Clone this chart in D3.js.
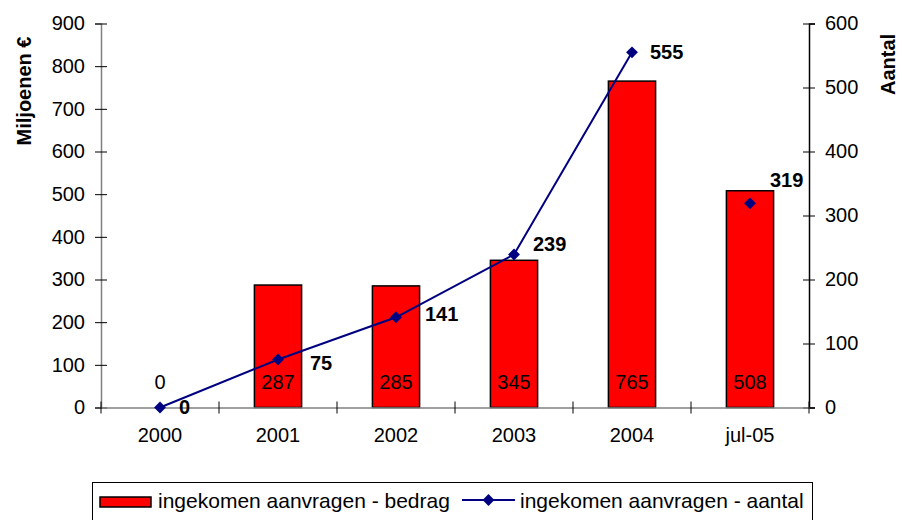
<!DOCTYPE html>
<html>
<head>
<meta charset="utf-8">
<script src="https://cdn.jsdelivr.net/npm/d3@7"></script>
<style>
  html, body { margin: 0; padding: 0; background: #fff; }
  svg { display: block; font-family: "Liberation Sans", Arial, sans-serif; }
</style>
</head>
<body>
<svg id="chart" width="902" height="520"></svg>
<script>
const categories = ["2000", "2001", "2002", "2003", "2004", "jul-05"];
const bedrag = [0, 287, 285, 345, 765, 508];
const aantal = [0, 75, 141, 239, 555, 319];
const leftTicks = [0, 100, 200, 300, 400, 500, 600, 700, 800, 900];
const rightTicks = [0, 100, 200, 300, 400, 500, 600];
const seriesNames = ["ingekomen aanvragen - bedrag", "ingekomen aanvragen - aantal"];
const yTitleLeft = "Miljoenen €";
const yTitleRight = "Aantal";

function draw() {
  const svg = d3.select("#chart");
  const plot = { left: 101, right: 809, top: 23.5, bottom: 407.5 };

  const x = d3.scaleBand().domain(categories).range([plot.left, plot.right]).padding(0);
  const yL = d3.scaleLinear().domain([0, 900]).range([plot.bottom, plot.top]);
  const yR = d3.scaleLinear().domain([0, 600]).range([plot.bottom, plot.top]);

  const fs = 20;

  // Bars
  const barW = x.bandwidth() * 0.4;
  svg.append("g").selectAll("rect").data(categories).join("rect")
    .attr("x", d => x(d) + x.bandwidth() / 2 - barW / 2)
    .attr("y", (d, i) => yL(bedrag[i]))
    .attr("width", barW)
    .attr("height", (d, i) => yL(0) - yL(bedrag[i]))
    .attr("fill", (d, i) => bedrag[i] > 0 ? "#ff0000" : "none")
    .attr("stroke", (d, i) => bedrag[i] > 0 ? "#000" : "none")
    .attr("stroke-width", 1.5);

  // Left axis
  const gL = svg.append("g").attr("transform", `translate(${plot.left},0)`)
    .call(d3.axisLeft(yL).tickValues(leftTicks).tickSize(6).tickPadding(10).tickFormat(d3.format("d")));
  gL.select(".domain").attr("stroke", "#808080").attr("stroke-width", 1.5);
  gL.selectAll(".tick line").attr("x1", 6).attr("x2", -6).attr("stroke", "#000");
  gL.selectAll(".tick text").attr("font-size", fs).attr("fill", "#000")
    .attr("font-family", "Liberation Sans, Arial, sans-serif");

  // Right axis
  const gR = svg.append("g").attr("transform", `translate(${plot.right},0)`)
    .call(d3.axisRight(yR).tickValues(rightTicks).tickSize(6).tickPadding(10).tickFormat(d3.format("d")));
  gR.select(".domain").attr("stroke", "#000").attr("stroke-width", 1.5);
  gR.selectAll(".tick line").attr("x1", -6).attr("x2", 6).attr("stroke", "#000");
  gR.selectAll(".tick text").attr("font-size", fs).attr("fill", "#000")
    .attr("font-family", "Liberation Sans, Arial, sans-serif");

  // Bottom axis
  const gB = svg.append("g").attr("transform", `translate(0,${plot.bottom})`)
    .call(d3.axisBottom(x).tickSize(0).tickPadding(20));
  gB.select(".domain").attr("stroke", "#808080").attr("stroke-width", 1.5);
  gB.selectAll(".tick text").attr("font-size", fs).attr("fill", "#000")
    .attr("font-family", "Liberation Sans, Arial, sans-serif");
  const bounds = categories.map(d => x(d)).concat([plot.right]);
  gB.append("g").selectAll("line").data(bounds).join("line")
    .attr("x1", d => d).attr("x2", d => d)
    .attr("y1", -6).attr("y2", 6)
    .attr("stroke", "#000").attr("stroke-width", 1);

  // Bar value labels
  svg.append("g").selectAll("text").data(categories).join("text")
    .attr("x", d => x(d) + x.bandwidth() / 2)
    .attr("y", plot.bottom - 19)
    .attr("text-anchor", "middle")
    .attr("font-size", fs)
    .attr("fill", "#000")
    .text((d, i) => bedrag[i]);

  // Line (2000 to 2004 connected, jul-05 standalone)
  const cx = d => x(d) + x.bandwidth() / 2;
  const line = d3.line()
    .defined((d, i) => i < categories.length - 1)
    .x((d, i) => cx(categories[i]))
    .y(d => yR(d));
  svg.append("path").datum(aantal)
    .attr("d", line)
    .attr("fill", "none").attr("stroke", "#000080").attr("stroke-width", 2);

  svg.append("g").selectAll("path").data(aantal).join("path")
    .attr("d", d3.symbol().type(d3.symbolSquare).size(70))
    .attr("transform", (d, i) => `translate(${cx(categories[i])},${yR(d)}) rotate(45)`)
    .attr("fill", "#000080");

  // Line value labels (manual nudges as in the original chart)
  const nudge = [[19, -1], [32, 3], [29, -3.5], [19, -10.5], [18, 0], [20, -23]];
  svg.append("g").selectAll("text").data(aantal).join("text")
    .attr("x", (d, i) => cx(categories[i]) + nudge[i][0])
    .attr("y", (d, i) => yR(d) + nudge[i][1])
    .attr("dy", "0.35em")
    .attr("font-size", fs)
    .attr("font-weight", "bold")
    .attr("fill", "#000")
    .text(d => d);

  // Axis titles
  svg.append("text")
    .attr("transform", `translate(31,91) rotate(-90)`)
    .attr("text-anchor", "middle")
    .attr("font-size", fs)
    .attr("font-weight", "bold")
    .text(yTitleLeft);
  svg.append("text")
    .attr("transform", `translate(895,64.5) rotate(-90)`)
    .attr("text-anchor", "middle")
    .attr("font-size", fs)
    .attr("font-weight", "bold")
    .text(yTitleRight);

  // Legend
  const lg = svg.append("g");
  lg.append("rect").attr("x", 92.5).attr("y", 482.5).attr("width", 720).attr("height", 50)
    .attr("fill", "#fff").attr("stroke", "#000").attr("stroke-width", 1);
  lg.append("rect").attr("x", 100).attr("y", 497).attr("width", 51).attr("height", 10)
    .attr("fill", "#ff0000").attr("stroke", "#000").attr("stroke-width", 1.5);
  lg.append("text").attr("x", 158).attr("y", 507.5).attr("font-size", 21).text(seriesNames[0]);
  lg.append("line").attr("x1", 462).attr("x2", 515).attr("y1", 500).attr("y2", 500)
    .attr("stroke", "#000080").attr("stroke-width", 2);
  lg.append("path").attr("d", d3.symbol().type(d3.symbolSquare).size(70))
    .attr("transform", "translate(488.5,500) rotate(45)").attr("fill", "#000080");
  lg.append("text").attr("x", 520).attr("y", 507.5).attr("font-size", 21).text(seriesNames[1]);
}
draw();
</script>
</body>
</html>
